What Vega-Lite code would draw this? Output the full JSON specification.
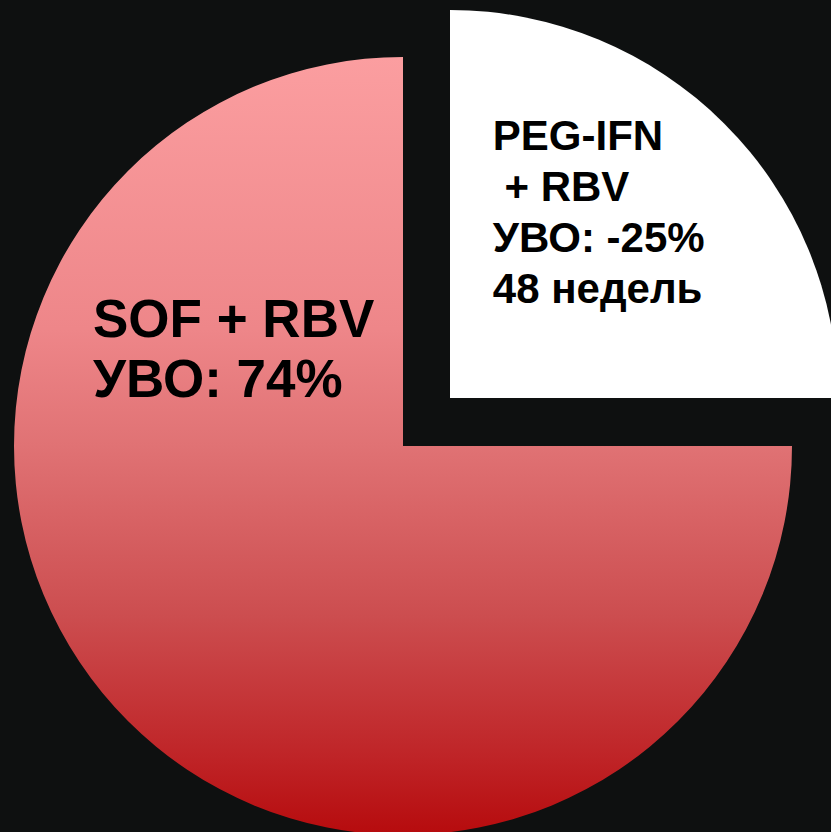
{
  "$schema": "https://vega.github.io/schema/vega-lite/v6.json",
  "autosize": {"type": "none"},
  "width": 806,
  "height": 772,
  "padding": {"left": 0, "right": 25, "top": 60, "bottom": 0},
  "background": "#0e1010",
  "config": {"view": {"stroke": null}},
  "data": {
    "values": [
      {"regimen": "PEG-IFN + RBV", "share": 25, "label": ["PEG-IFN", "\u200b\u00a0+ RBV", "УВО: -25%", "48 недель"]},
      {"regimen": "SOF + RBV", "share": 75, "label": ["SOF + RBV", "УВО: 74%"]}
    ]
  },
  "encoding": {
    "theta": {"field": "share", "type": "quantitative", "stack": true}
  },
  "layer": [
    {
      "mark": {
        "type": "arc",
        "radius": 389,
        "color": {
          "gradient": "linear",
          "x1": 0, "y1": 0, "x2": 0, "y2": 1,
          "stops": [
            {"offset": 0, "color": "#fb9ea0"},
            {"offset": 0.35, "color": "#ee8689"},
            {"offset": 0.5, "color": "#e07274"},
            {"offset": 0.72, "color": "#cc4d4f"},
            {"offset": 0.9, "color": "#bf2427"},
            {"offset": 1, "color": "#b60b0d"}
          ]
        }
      },
      "encoding": {
        "opacity": {"condition": {"test": "datum.regimen === 'SOF + RBV'", "value": 1}, "value": 0}
      }
    },
    {
      "mark": {"type": "arc", "radius": 388, "color": "#ffffff", "xOffset": 47, "yOffset": -48},
      "encoding": {
        "opacity": {"condition": {"test": "datum.regimen === 'PEG-IFN + RBV'", "value": 1}, "value": 0}
      }
    },
    {
      "mark": {
        "type": "text",
        "radius": 127,
        "align": "left",
        "baseline": "alphabetic",
        "dy": -206,
        "font": "Liberation Sans",
        "fontWeight": "bold",
        "fontSize": 42,
        "lineHeight": 51,
        "color": "#000000"
      },
      "encoding": {
        "text": {"field": "label", "type": "nominal"},
        "opacity": {"condition": {"test": "datum.regimen === 'PEG-IFN + RBV'", "value": 1}, "value": 0}
      }
    },
    {
      "mark": {
        "type": "text",
        "radius": 0,
        "align": "left",
        "baseline": "alphabetic",
        "dx": -310,
        "dy": -109,
        "font": "Liberation Sans",
        "fontWeight": "bold",
        "fontSize": 53,
        "lineHeight": 60,
        "color": "#000000"
      },
      "encoding": {
        "text": {"field": "label", "type": "nominal"},
        "opacity": {"condition": {"test": "datum.regimen === 'SOF + RBV'", "value": 1}, "value": 0}
      }
    }
  ]
}
